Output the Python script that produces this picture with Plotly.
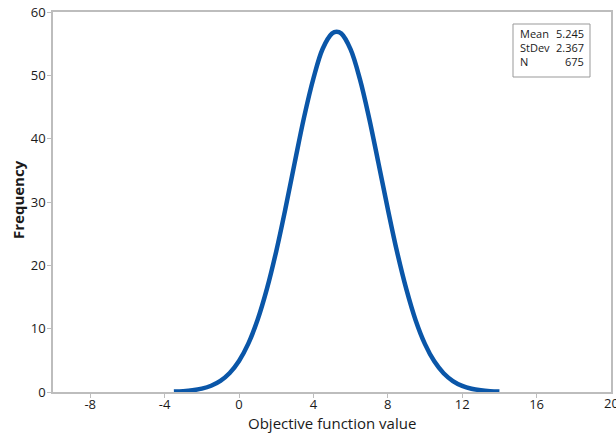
import plotly.graph_objects as go

# Fitted normal curve
x_vals = [-3.5, -3.0, -2.5, -2.0, -1.5, -1.0, -0.5, 0.0, 0.5, 1.0, 1.5, 2.0, 2.5, 3.0,
          3.5, 4.0, 4.5, 5.0, 5.25, 5.5, 6.0, 6.5, 7.0, 7.5, 8.0, 8.5, 9.0, 9.5, 10.0,
          10.5, 11.0, 11.5, 12.0, 12.5, 13.0, 13.5, 14.0]
freq_vals = [0.06, 0.13, 0.27, 0.53, 0.98, 1.75, 2.99, 4.89, 7.63, 11.4, 16.27, 22.2, 29.0, 36.3,
             43.4, 49.5, 54.2, 56.6, 56.9, 56.6, 54.1, 49.4, 43.2, 36.1, 28.9, 22.1, 16.2, 11.3, 7.56,
             4.84, 2.96, 1.73, 0.97, 0.52, 0.27, 0.13, 0.06]

x_ticks = [-8, -4, 0, 4, 8, 12, 16, 20]
x_tick_labels = ["-8", "-4", "0", "4", "8", "12", "16", "20"]
y_ticks = [0, 10, 20, 30, 40, 50, 60]

stat_labels = ["Mean", "StDev", "N"]
stat_values = ["5.245", "2.367", "675"]

FONT = "Open Sans"
GRAY = "#bdbdbd"
TXT = "#1a1a1a"
L, R, T, B = 53, 5, 12, 44
PW, PH = 616 - L - R, 436 - T - B

fig = go.Figure()
fig.add_trace(go.Scatter(x=x_vals, y=freq_vals, mode="lines",
                         line=dict(color="#0a56a8", width=4.5, shape="spline"),
                         hoverinfo="skip", showlegend=False))

fig.update_layout(
    width=616, height=436,
    margin=dict(l=L, r=R, t=T, b=B, autoexpand=False),
    paper_bgcolor="white", plot_bgcolor="white",
    font=dict(family=FONT, color=TXT, size=13),
    xaxis=dict(range=[-10, 20], tickvals=x_ticks[:-1], ticktext=x_tick_labels[:-1],
               showgrid=False, zeroline=False, automargin=False,
               showline=True, linecolor=GRAY, linewidth=1.5, mirror=True,
               ticks="outside", ticklen=4, tickcolor=GRAY, ticklabelstandoff=-4),
    yaxis=dict(range=[0, 60], tickvals=y_ticks, showgrid=False, zeroline=False, automargin=False,
               showline=True, linecolor=GRAY, linewidth=1.5, mirror=True,
               ticks="outside", ticklen=4, tickcolor=GRAY, ticklabelstandoff=-1),
)

def px_x(p):
    return (p - L) / PW

def px_y(p):
    return (436 - B - p) / PH

# Last x tick label sits at the right edge and is partly cut off
fig.add_annotation(xref="x", yref="paper", x=x_ticks[-1], y=px_y(403),
                   text=x_tick_labels[-1], showarrow=False,
                   xanchor="center", yanchor="middle",
                   font=dict(size=13, family=FONT, color=TXT))

# Axis titles
fig.add_annotation(xref="paper", yref="paper", x=px_x(332), y=px_y(423),
                   text="Objective function value", showarrow=False,
                   xanchor="center", yanchor="middle",
                   font=dict(size=15, family=FONT, color=TXT))
fig.add_annotation(xref="paper", yref="paper", x=px_x(18), y=px_y(200),
                   text="<b>Frequency</b>", showarrow=False, textangle=-90,
                   xanchor="center", yanchor="middle",
                   font=dict(size=15, family=FONT, color=TXT))

# Stats box
fig.add_shape(type="rect", xref="paper", yref="paper",
              x0=px_x(513), x1=px_x(590), y0=px_y(77), y1=px_y(24),
              line=dict(color="#999999", width=1), fillcolor="white")
for i, (lab, val) in enumerate(zip(stat_labels, stat_values)):
    ypix = 34 + i * 14
    fig.add_annotation(xref="paper", yref="paper", x=px_x(518), y=px_y(ypix),
                       text=lab, showarrow=False, xanchor="left", yanchor="middle",
                       font=dict(size=11, family=FONT, color=TXT))
    fig.add_annotation(xref="paper", yref="paper", x=px_x(586), y=px_y(ypix),
                       text=val, showarrow=False, xanchor="right", yanchor="middle",
                       font=dict(size=11, family=FONT, color=TXT))

fig.write_html("out.html", config={"displayModeBar": False},
               post_script="document.body.style.margin='0';document.body.style.overflow='hidden';")
